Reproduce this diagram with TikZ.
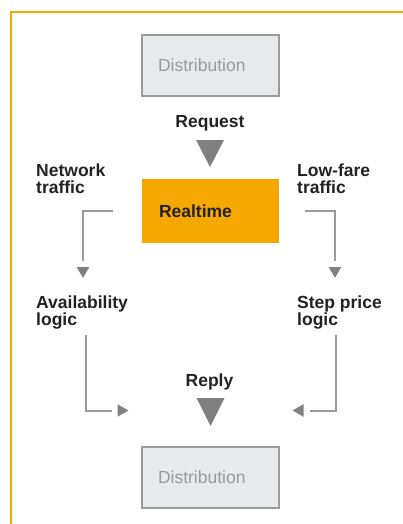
\documentclass[tikz,border=0pt]{standalone}
\usepackage{fontspec}
\setmainfont{Liberation Sans}
\usetikzlibrary{arrows.meta,decorations.markings}
\definecolor{fareorange}{RGB}{246,168,0}
\definecolor{boxgray}{RGB}{232,233,235}
\definecolor{linegray}{RGB}{155,155,155}
\definecolor{tipgray}{RGB}{128,128,128}
\definecolor{inkblack}{RGB}{34,34,34}

\begin{document}
\begin{tikzpicture}[x=1pt,y=-1pt]
\begin{scope}
	\tikzstyle{every node}=[inner sep=0pt, align=left, font=\fontsize{17.5}{17}\selectfont]
	\tikzstyle{lbl}=[anchor=base west, text=inkblack, font=\fontsize{17.5}{17}\selectfont\bfseries]
	\tikzstyle{distbox}=[draw=linegray, line width=1.5pt, fill=boxgray, text=linegray, minimum width=137pt, minimum height=61pt, text width=105pt, inner xsep=16pt]
	\tikzstyle{flow}=[draw=linegray, line width=2pt, shorten >=17pt, postaction={decorate, decoration={markings, mark=at position 1 with {\arrow[tipgray]{Triangle[width=12pt,length=11pt]}}}}]
	\useasboundingbox (0,0) rectangle (403,524);
	\draw[fareorange, line width=2pt] (11,524) -- (11,12) -- (403,12);

	\node[distbox] (disttop) at (210.5,65.5) {Distribution};
	\node[lbl, anchor=base] (request) at (210,127) {Request};
	\node[fill=fareorange, minimum width=137pt, minimum height=64pt, text width=103pt, inner xsep=17pt, text=inkblack, font=\fontsize{17.5}{17}\selectfont\bfseries] (realtime) at (210.5,211) {Realtime};
	\node[lbl] (network) at (36,193) {Network\\traffic};
	\node[lbl] (lowfare) at (297,193) {Low-fare\\traffic};
	\node[lbl] (avail) at (36,325) {Availability\\logic};
	\node[lbl] (step) at (297,325) {Step price\\logic};
	\node[lbl, anchor=base] (reply) at (209.5,386) {Reply};
	\node[distbox] (distbot) at (210.5,477.5) {Distribution};

	\coordinate (availtip) at (83,278);
	\coordinate (steptip) at (335,278);
	\coordinate (availout) at (85.5,335);
	\coordinate (stepout) at (336,335);
	\coordinate (replyleft) at (128.5,410.5);
	\coordinate (replyright) at (292.5,410.5);

	\fill[tipgray] (196,140) -- (224,140) -- (210,167) -- cycle;
	\fill[tipgray] (196.5,398) -- (224.5,398) -- (210.5,426) -- cycle;

	\draw[flow, shorten <=29pt] (realtime.west) -| (availtip);
	\draw[flow, shorten <=26pt] (realtime.east) -| (steptip);
	\draw[flow] (availout) |- (replyleft);
	\draw[flow] (stepout) |- (replyright);
\end{scope}
\end{tikzpicture}
\end{document}
